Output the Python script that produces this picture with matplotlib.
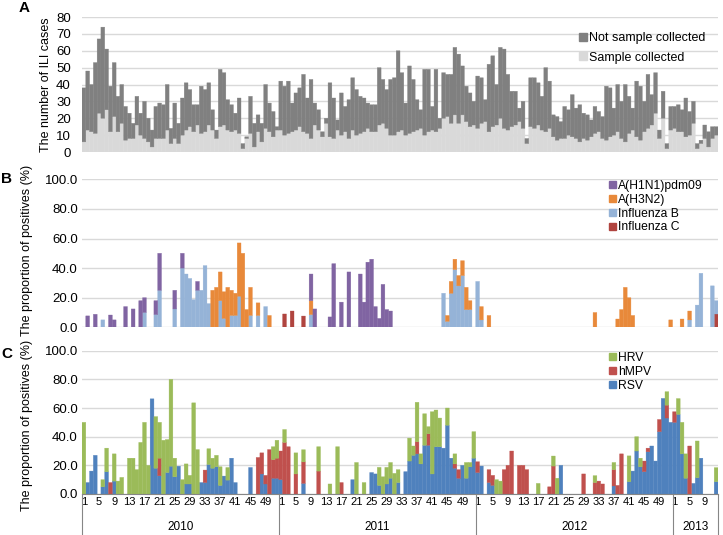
import matplotlib
matplotlib.use('Agg')
import matplotlib.pyplot as plt
import numpy as np
from matplotlib.patches import Patch
from matplotlib.transforms import blended_transform_factory

plt.rcParams['font.family'] = ['Liberation Sans', 'DejaVu Sans']

# ---------------- Panel A: ILI cases per week ----------------
total_2010 = [38,48,40,53,67,74,61,39,53,33,40,27,23,
              17,33,23,30,20,13,27,29,28,40,14,29,17,
              32,41,37,28,28,39,37,41,25,13,49,47,31,
              28,23,32,5,9,33,17,22,17,40,29,24,15]
total_2011 = [42,39,42,29,35,38,46,32,43,29,25,12,20,
              41,32,19,35,27,31,44,37,33,32,29,28,28,
              50,43,37,43,44,60,47,29,51,43,31,25,49,
              49,27,49,20,47,46,46,62,58,51,39,35,30]
total_2012 = [45,44,31,52,57,40,62,61,46,36,36,26,30,
              8,44,44,41,33,50,42,22,21,18,27,25,34,
              26,28,23,22,19,27,24,21,39,38,26,40,30,
              40,33,26,42,39,30,46,34,47,13,36,5,27]
total_2013 = [27,28,25,32,24,30,5,7,16,12,15,15]

sampled_2010 = [6,13,12,11,23,20,25,12,21,12,17,7,8,
                8,16,10,8,6,3,8,8,8,13,5,8,5,
                10,13,15,12,16,11,12,16,13,8,15,16,13,
                12,13,11,2,8,11,3,12,6,14,12,9,13]
sampled_2011 = [13,10,11,12,13,15,12,11,8,16,13,9,17,
                9,8,13,10,12,8,13,10,11,12,14,12,12,
                16,17,14,10,10,12,13,10,11,12,13,14,10,
                12,13,12,14,20,21,17,22,17,22,18,15,16]
sampled_2012 = [14,17,18,12,15,16,20,14,13,15,16,18,14,
                5,15,14,16,13,12,14,9,7,8,8,10,9,
                8,6,8,7,9,11,12,8,7,9,10,12,8,
                6,11,13,9,7,12,14,16,23,8,20,2,13]
sampled_2013 = [14,12,12,9,10,17,2,5,8,3,8,10]

# ---------------- Panel B: influenza positives (%) ----------------
h1n1_2010 = [0,7.7,0,8.8,0,0,0,8.3,5,0,0,14,0,
             12.4,0,18,10,0,0,9.4,25,0,0,0,12.6,0,
             10,0,0,0,6,0,0,0,0,0,0,0,0,
             0,0,0,0,0,0,0,0,0,0,0,0,0]
h1n1_2011 = [0,0,0,0,0,0,0,0,18,12.4,0,0,0,
             7,43,0,17,0,37.4,0,0,36,17,44,46,14,
             6,29,12,11,0,0,0,0,0,0,0,0,0,
             0,0,0,0,0,0,0,0,0,0,0,0,0]
h1n1_2012 = [0]*52
h1n1_2013 = [0]*12

h3n2_2010 = [0,0,0,0,0,0,0,0,0,0,0,0,0,
             0,0,0,0,0,0,0,0,0,0,0,0,0,
             0,0,0,0,0,0,0,0,25,27,19.4,18,27,
             17,15,36,50,12,19,0,8.5,0,0,8,0,0]
h3n2_2011 = [0,0,0,0,0,0,0,0,9.4,0,0,0,0,
             0,0,0,0,0,0,0,0,0,0,0,0,0,
             0,0,0,0,0,0,0,0,0,0,0,0,0,
             0,0,0,0,0,4,8,7,7,10,15,6,0]
h3n2_2012 = [0,9,0,8,0,0,0,0,0,0,0,0,0,
             0,0,0,0,0,0,0,0,0,0,0,0,0,
             0,0,0,0,0,10,0,0,0,0,0,5.6,12,
             27,20,8,0,0,0,0,0,0,0,0,0,5]
h3n2_2013 = [0,0,5.6,0,6,0,0,0,0,0,0,0]

fluB_2010 = [0,0,0,0,0,5,0,0,0,0,0,0,0,
             0,0,0,10,0,0,8.6,25,0,0,0,12.4,0,
             40,36,33,18.7,25,25,41.7,16,0,0,18,6,0,
             8,8,21,0,0,8,0,8,0,14,0,0,0]
fluB_2011 = [0,0,0,0,0,0,0,0,8.6,0,0,0,0,
             0,0,0,0,0,0,0,0,0,0,0,0,0,
             0,0,0,0,0,0,0,0,0,0,0,0,0,
             0,0,0,0,23,4,23,39,28,35,12,12,0]
fluB_2012 = [31,5,0,0,0,0,0,0,0,0,0,0,0,
             0,0,0,0,0,0,0,0,0,0,0,0,0,
             0,0,0,0,0,0,0,0,0,0,0,0,0,
             0,0,0,0,0,0,0,0,0,0,0,0,0]
fluB_2013 = [0,0,0,0,5,0,15,36.5,0,0,28,9]

fluC_2010 = [0]*52
fluC_2011 = [0,9,0,11,0,0,7.6,0,0,0,0,0,0,
             0,0,0,0,0,0,0,0,0,0,0,0,0,
             0,0,0,0,0,0,0,0,0,0,0,0,0,
             0,0,0,0,0,0,0,0,0,0,0,0,0]
fluC_2012 = [0]*52
fluC_2013 = [0,0,0,0,0,0,0,0,0,0,0,9]

# ---------------- Panel C: other respiratory viruses (%) ----------------
rsv_2010 = [0,8,16,27,0,5,15.5,0,9,0,0,0,0,
            0,0,0,0,0,66.4,18,12.7,0,15,19.4,12,19.4,
            0,7,7,0,0,8,8,20.6,18,19,6,12.5,9.7,
            25,8,0,0,0,18.5,0,0,14,7,0,11,11]
rsv_2011 = [10,0,0,0,0,0,7.4,0,0,0,0,0,0,
            0,0,0,0,0,0,10,0,0,0,0,15,14,
            6,0,7,11,0,8,0,15.6,23,27,28,21,34,
            34,14,33,33,32,48,25,18,11,20,11,19,25]
rsv_2012 = [15,19.5,0,8,6,0,0,0,0,0,0,0,0,
            0,0,0,0,0,0,0,0,0,20,0,0,0,
            0,0,0,0,0,0,0,0,0,0,5.6,0,0,
            0,8.6,16,30,19,15.6,29.5,33.5,23,43.5,66.7,53,50]
rsv_2013 = [50,55.6,28,11,0,7.4,11.4,25,0,0,0,8.6]

hmpv_2010 = [0,0,0,0,0,0,0,8,0,0,0,0,0,
             0,0,0,0,0,0,0,12.3,0,0,0,0,0,
             0,0,0,0,0,0,8.7,0,0,0,0,0,0,
             0,0,0,0,0,0,0,25.5,14.7,6,31,13,14]
hmpv_2011 = [20,36,33,0,14,0,15,0,0,0,16,0,0,
             0,0,0,8,0,0,0,0,0,0,0,0,0,
             0,0,0,0,0,0,0,0,0,0,8.5,0,0,
             8,0,0,0,0,0,0,3,6,0,0,0,0]
hmpv_2012 = [7.5,0,0,9,7,0,0,17,20,30,0,20,20,
             17,0,0,0,0,0,5,19.5,0,0,0,0,0,
             0,0,14,0,0,8,9,7,0,0,11.4,6,28,
             0,0,0,0,0,7.4,2.5,0,0,8.5,0,9,0]
hmpv_2013 = [7.4,0,0,0,33.5,0,0,0,0,0,0,0]

hrv_2010 = [50,0,0,0,0,5,16.5,0,19,9,11.6,0,25,
            25,17,36,50,20,0,36,25,37.5,23,60.6,13,0,
            10,14,6,63.6,31,0,0,11,7,8,13,0,8.8,
            0,0,0,0,0,0,0,0,0,0,0,9,12.5]
hrv_2011 = [0,9,0,0,14.7,0,8.5,0,0,0,17,0,0,
            7,0,33,0,0,0,0,22,0,8,0,0,0,
            12.6,12,11.6,11,14.4,9,0,0,16,6.5,27.5,7,22,
            5,43.4,25.6,20,0,12,0,7,0,0,11,3,18.5]
hrv_2012 = [0,0,0,0,0,10,9,0,0,0,0,0,0,
            0,0,0,7.4,0,0,0,7,11,0,0,0,0,
            0,0,0,0,0,4.8,0,0,0,0,5,0,0,
            0,18,0,10,6,0,0,0,0,0,0,9.4,0]
hrv_2013 = [0,11,22,17,0,0,25.6,0,0,0,0,9.8]

years = ['2010', '2011', '2012', '2013']
weeks_per_year = [52, 52, 52, 12]
week_ticks = [1, 5, 9, 13, 17, 21, 25, 29, 33, 37, 41, 45, 49]

def cat(a, b, c, d):
    return np.array(a + b + c + d, dtype=float)

total = cat(total_2010, total_2011, total_2012, total_2013)
sampled = cat(sampled_2010, sampled_2011, sampled_2012, sampled_2013)
not_sampled = total - sampled
h1n1 = cat(h1n1_2010, h1n1_2011, h1n1_2012, h1n1_2013)
h3n2 = cat(h3n2_2010, h3n2_2011, h3n2_2012, h3n2_2013)
fluB = cat(fluB_2010, fluB_2011, fluB_2012, fluB_2013)
fluC = cat(fluC_2010, fluC_2011, fluC_2012, fluC_2013)
rsv = cat(rsv_2010, rsv_2011, rsv_2012, rsv_2013)
hmpv = cat(hmpv_2010, hmpv_2011, hmpv_2012, hmpv_2013)
hrv = cat(hrv_2010, hrv_2011, hrv_2012, hrv_2013)

n = len(total)
x = np.arange(n)

fig = plt.figure(figsize=(7.23, 5.35), dpi=100)
L, W = 82/723, 636/723
axA = fig.add_axes([L, 1-152/535, W, 135/535])
axB = fig.add_axes([L, 1-327.3/535, W, 148/535])
axC = fig.add_axes([L, 1-494/535, W, 143.3/535])

grid_col = '#d9d9d9'
for ax in (axA, axB, axC):
    ax.set_xlim(-0.5, n-0.5)
    for s in ax.spines.values():
        s.set_visible(False)
    ax.set_axisbelow(True)
    ax.yaxis.grid(True, color=grid_col, lw=1.0)
    ax.tick_params(axis='y', length=0, labelsize=9.5, pad=3)
    ax.tick_params(axis='x', length=0)

def bars(ax, vals, bottom, color):
    bottom = np.broadcast_to(np.asarray(bottom, dtype=float), vals.shape)
    m = vals > 0
    bc = ax.bar(x[m], vals[m], bottom=bottom[m], width=1.0, color=color,
                edgecolor=color, linewidth=0.25)
    for p in bc.patches:
        p.set_snap(False)

# Panel A
bars(axA, sampled, 0, '#d9d9d9')
bars(axA, not_sampled, sampled, '#808080')
axA.set_ylim(0, 80)
axA.set_yticks(range(0, 81, 10))
axA.tick_params(axis='y', pad=8)
axA.set_xticks([])
axA.set_ylabel('The number of ILI cases', fontsize=9)
axA.yaxis.set_label_coords(-0.047, 0.5)
axA.legend([Patch(color='#808080'), Patch(color='#d9d9d9')],
           ['Not sample collected', 'Sample collected'],
           loc='upper left', bbox_to_anchor=(579/723, 1-32/535), bbox_transform=fig.transFigure,
           frameon=False, fontsize=9, handlelength=0.6, handleheight=0.6,
           handletextpad=0.2, labelspacing=0.6, borderpad=0, borderaxespad=0)

# Panel B
cB = {'H1N1': '#8064a2', 'H3N2': '#e8893a', 'B': '#95b3d7', 'C': '#b0443f'}
b0 = np.zeros(n)
bars(axB, fluC, b0, cB['C']); b0 = b0 + fluC
bars(axB, fluB, b0, cB['B']); b0 = b0 + fluB
bars(axB, h3n2, b0, cB['H3N2']); b0 = b0 + h3n2
bars(axB, h1n1, b0, cB['H1N1'])
axB.set_ylim(0, 100)
axB.set_yticks(range(0, 101, 20))
axB.set_yticklabels(['%.1f' % v for v in range(0, 101, 20)])
axB.set_xticks([])
axB.set_ylabel('The proportion of positives (%)', fontsize=9)
axB.yaxis.set_label_coords(-0.077, 0.52)
axB.legend([Patch(color=cB['H1N1']), Patch(color=cB['H3N2']), Patch(color=cB['B']), Patch(color=cB['C'])],
           ['A(H1N1)pdm09', 'A(H3N2)', 'Influenza B', 'Influenza C'],
           loc='upper left', bbox_to_anchor=(609/723, 1-180/535), bbox_transform=fig.transFigure,
           frameon=False, fontsize=8.7, handlelength=0.55, handleheight=0.55,
           handletextpad=0.2, labelspacing=0.15, borderpad=0, borderaxespad=0)

# Panel C
cC = {'RSV': '#4f81bd', 'hMPV': '#c0504d', 'HRV': '#9bbb59'}
c0 = np.zeros(n)
bars(axC, rsv, c0, cC['RSV']); c0 = c0 + rsv
bars(axC, hmpv, c0, cC['hMPV']); c0 = c0 + hmpv
bars(axC, hrv, c0, cC['HRV'])
axC.set_ylim(0, 100)
axC.set_yticks(range(0, 101, 20))
axC.set_yticklabels(['%.1f' % v for v in range(0, 101, 20)])
axC.set_ylabel('The proportion of positives (%)', fontsize=9)
axC.yaxis.set_label_coords(-0.077, 0.48)
axC.spines['bottom'].set_visible(True)
axC.spines['bottom'].set_color('#868686')

tick_pos, tick_lab = [], []
start = 0
bounds = [-0.5]
centers = []
for yr, nw in zip(years, weeks_per_year):
    for w in week_ticks:
        if w <= nw:
            tick_pos.append(start + w - 1)
            tick_lab.append(str(w))
    centers.append(start + nw/2 - 0.5)
    start += nw
    bounds.append(start - 0.5)
axC.set_xticks(tick_pos)
axC.set_xticklabels(tick_lab, fontsize=8)
axC.tick_params(axis='x', length=0, pad=2)
tr = blended_transform_factory(axC.transData, axC.transAxes)
for b in bounds:
    axC.plot([b, b], [0, -0.29], transform=tr, color='#868686', lw=0.8, clip_on=False)
for yr, cx in zip(years, centers):
    axC.text(cx, -0.23, yr, transform=tr, ha='center', va='center', fontsize=8.5)
axC.legend([Patch(color=cC['HRV']), Patch(color=cC['hMPV']), Patch(color=cC['RSV'])],
           ['HRV', 'hMPV', 'RSV'],
           loc='upper left', bbox_to_anchor=(609/723, 1-352/535), bbox_transform=fig.transFigure,
           frameon=False, fontsize=8.7, handlelength=0.55, handleheight=0.55,
           handletextpad=0.2, labelspacing=0.15, borderpad=0, borderaxespad=0)

# Panel letters
fig.text(19/723, 1-8/535, 'A', fontsize=11, fontweight='bold', ha='left', va='center')
fig.text(1/723, 1-179/535, 'B', fontsize=11, fontweight='bold', ha='left', va='center')
fig.text(1/723, 1-354/535, 'C', fontsize=11, fontweight='bold', ha='left', va='center')

fig.savefig('out.png', dpi=100)
